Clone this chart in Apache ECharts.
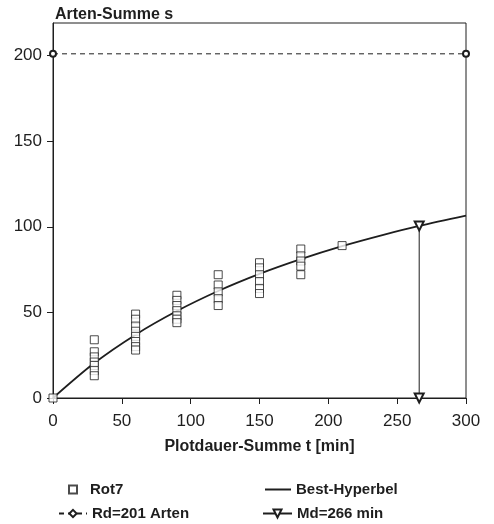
<!DOCTYPE html>
<html>
<head>
<meta charset="utf-8">
<script src="https://cdn.jsdelivr.net/npm/echarts@6/dist/echarts.min.js"></script>
<style>
  html, body { margin: 0; padding: 0; background: #fff; }
  #chart { width: 494px; height: 524px; }
</style>
</head>
<body>
<div id="chart"></div>
<script>
// Rot7: Plotdauer-Summe t [min] / Arten-Summe s
var rot7Time = [0,
  30, 30, 30, 30, 30, 30, 30,
  60, 60, 60, 60, 60, 60, 60, 60,
  90, 90, 90, 90, 90, 90, 90,
  120, 120, 120, 120, 120,
  150, 150, 150, 150, 150, 150,
  180, 180, 180, 180, 180,
  210];
var rot7Species = [0,
  34, 27, 24, 21, 19, 16, 13,
  49, 46, 42, 39, 36, 33, 30, 28,
  60, 57, 54, 51, 48, 46, 44,
  72, 66, 62, 58, 54,
  79, 76, 72, 68, 64, 61,
  87, 83, 80, 77, 72,
  89];

// Best-Hyperbel
var curveTime = [0, 30, 60, 90, 120, 150, 180, 210, 240, 266, 300];
var curveSpecies = [0, 20.4, 37, 50.8, 62.5, 72.5, 81.1, 88.7, 95.3, 100.5, 106.5];

// Rd und Md
var rdLine = [[0, 201], [300, 201]];
var mdLine = [[266, 0], [266, 100.5]];

var xTicks = [0, 50, 100, 150, 200, 250, 300];
var yTicks = [0, 50, 100, 150, 200];

var ink = '#1e1e1e';
var font = 'Liberation Sans, Arial, Helvetica, sans-serif';

function pairs(xs, ys) {
  var out = [];
  for (var i = 0; i < xs.length; i++) out.push([xs[i], ys[i]]);
  return out;
}

function legendText(padLeft) {
  return {
    fontFamily: font, fontSize: 15, fontWeight: 'bold', color: ink,
    padding: [0, 0, 0, padLeft]
  };
}

var chart = echarts.init(document.getElementById('chart'));

chart.setOption({
  backgroundColor: '#fff',
  animation: false,
  textStyle: { fontFamily: font, color: ink },
  title: {
    text: 'Arten-Summe s',
    left: 50,
    top: 2,
    textStyle: { fontFamily: font, fontSize: 16, fontWeight: 'bold', color: ink }
  },
  grid: {
    left: 53,
    right: 28,
    top: 23,
    bottom: 126,
    show: true,
    borderColor: ink,
    borderWidth: 1,
    backgroundColor: 'transparent'
  },
  legend: [
    {
      left: 63, top: 477,
      itemWidth: 8, itemHeight: 8,
      textStyle: legendText(8),
      data: ['Rot7']
    },
    {
      left: 53, top: 501,
      itemWidth: 28, itemHeight: 9,
      textStyle: legendText(0),
      data: ['Rd=201 Arten']
    },
    {
      left: 260, top: 477,
      itemWidth: 26, itemHeight: 2,
      textStyle: legendText(0),
      data: [{ name: 'Best-Hyperbel', icon: 'rect' }]
    },
    {
      left: 257, top: 501,
      itemWidth: 29, itemHeight: 10,
      textStyle: legendText(0),
      data: ['Md=266 min']
    }
  ],
  xAxis: {
    type: 'value',
    min: 0,
    max: 300,
    interval: 50,
    name: 'Plotdauer-Summe t [min]',
    nameLocation: 'middle',
    nameGap: 41,
    nameTextStyle: { fontFamily: font, fontSize: 16, fontWeight: 'bold', color: ink },
    axisLine: { lineStyle: { color: ink, width: 1 } },
    axisTick: { length: 6, lineStyle: { color: ink } },
    axisLabel: {
      margin: 15,
      fontSize: 17,
      color: ink,
      fontFamily: font,
      customValues: xTicks
    },
    splitLine: { show: false }
  },
  yAxis: {
    type: 'value',
    min: 0,
    max: 219,
    axisLine: { show: true, lineStyle: { color: ink, width: 1 } },
    axisTick: { show: true, length: 6, lineStyle: { color: ink }, customValues: yTicks },
    axisLabel: {
      margin: 11,
      fontSize: 17,
      color: ink,
      fontFamily: font,
      customValues: yTicks
    },
    splitLine: { show: false }
  },
  series: [
    {
      name: 'Best-Hyperbel',
      type: 'line',
      data: pairs(curveTime, curveSpecies),
      smooth: 0.3,
      showSymbol: false,
      symbol: 'none',
      lineStyle: { color: ink, width: 1.8 },
      itemStyle: { color: ink },
      z: 2
    },
    {
      name: 'Rot7',
      type: 'scatter',
      data: pairs(rot7Time, rot7Species),
      symbol: 'rect',
      symbolSize: [8, 8],
      clip: false,
      itemStyle: { color: '#fff', borderColor: ink, borderWidth: 1 },
      z: 4
    },
    {
      name: 'Rd=201 Arten',
      type: 'line',
      data: rdLine.map(function (p) { return { value: p, symbol: 'emptyCircle', symbolSize: 6 }; }),
      symbol: 'emptyDiamond',
      symbolSize: 8,
      clip: false,
      lineStyle: { color: ink, width: 1, type: [5, 4] },
      itemStyle: { color: ink, borderColor: ink, borderWidth: 1 },
      z: 3
    },
    {
      name: 'Md=266 min',
      type: 'line',
      data: mdLine,
      symbol: 'emptyTriangle',
      symbolRotate: 180,
      symbolSize: 9,
      clip: false,
      lineStyle: { color: ink, width: 1 },
      itemStyle: { color: ink, borderColor: ink, borderWidth: 1 },
      z: 3
    }
  ]
});
</script>
</body>
</html>
